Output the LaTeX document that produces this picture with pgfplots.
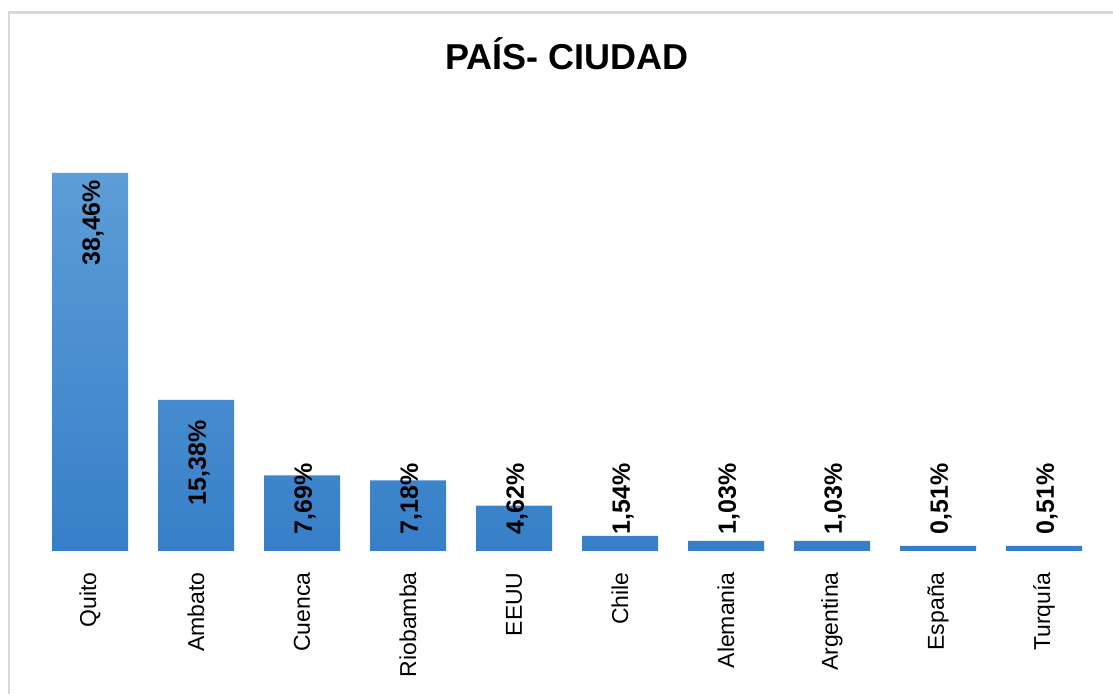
\documentclass[border=0pt]{standalone}
\usepackage{pgfplots}
\pgfplotsset{compat=1.18}
\usepackage{fontspec}
\setmainfont{Liberation Sans}
\definecolor{bartop}{RGB}{93,157,215}
\definecolor{barbot}{RGB}{54,127,200}
\definecolor{frame}{RGB}{217,217,217}
\begin{document}
\begin{tikzpicture}
\useasboundingbox (0pt,0pt) rectangle (556.5pt,347pt);
\fill[white] (0pt,0pt) rectangle (556.5pt,347pt);
\draw[frame, line width=1.2pt] (4.5pt,-2pt) -- (4.5pt,340.75pt) -- (560pt,340.75pt);
\node[font=\fontsize{18}{20}\selectfont\bfseries] at (283.5pt,320pt) {PAÍS- CIUDAD};
\begin{axis}[
  at={(18.5pt,71.5pt)}, anchor=south west,
  scale only axis, width=530pt, height=196.6pt,
  xmin=-0.5, xmax=9.5, ymin=0, ymax=40,
  axis y line=none, axis x line*=bottom,
  x axis line style={draw=none},
  xtick={0,...,9}, xtick style={draw=none},
  xticklabels={Quito,Ambato,Cuenca,Riobamba,EEUU,Chile,Alemania,Argentina,España,Turquía},
  xticklabel style={rotate=90, anchor=east, inner sep=0pt, xshift=-10.5pt, font=\fontsize{11.5}{12}\selectfont},
  clip=false,
]
\addplot[ybar, bar width=38pt, draw=none, top color=bartop, bottom color=barbot] coordinates {
(0,38.46) (1,15.38) (2,7.69) (3,7.18) (4,4.62) (5,1.54) (6,1.03) (7,1.03) (8,0.51) (9,0.51)};
\addplot[draw=none, mark=none, point meta=explicit symbolic, nodes near coords,
  nodes near coords style={rotate=90, anchor=east, inner sep=0pt, yshift=-1.5pt, font=\fontsize{12.5}{13}\selectfont\bfseries}]
  coordinates {(0,37.75)[38,46\%] (1,13.3)[15,38\%]};
\addplot[draw=none, mark=none, point meta=explicit symbolic, nodes near coords,
  nodes near coords style={rotate=90, anchor=west, inner sep=0pt, yshift=-1.5pt, font=\fontsize{12.5}{13}\selectfont\bfseries}]
  coordinates {(2,1.63)[7,69\%] (3,1.63)[7,18\%] (4,1.63)[4,62\%] (5,1.63)[1,54\%] (6,1.63)[1,03\%] (7,1.63)[1,03\%] (8,1.63)[0,51\%] (9,1.63)[0,51\%]};
\end{axis}
\end{tikzpicture}
\end{document}
